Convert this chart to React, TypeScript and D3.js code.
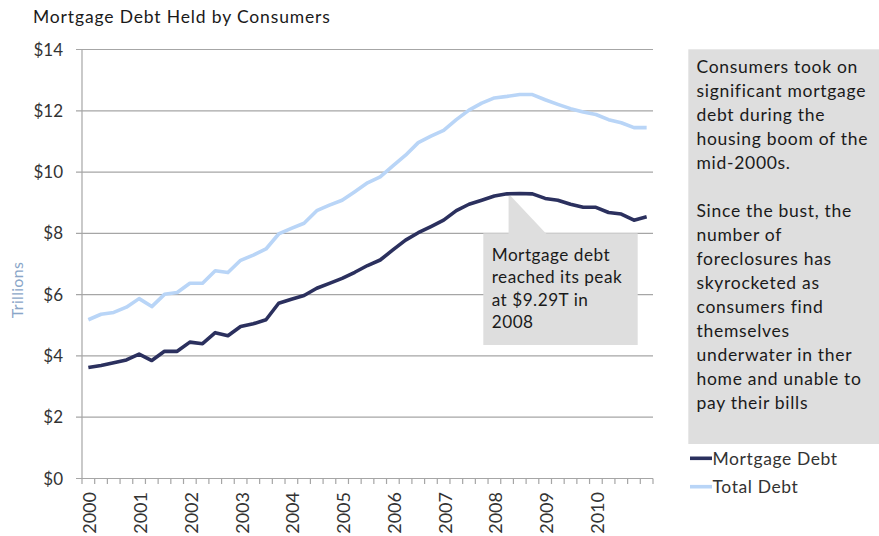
import React from "react";
import * as d3 from "d3";

const quarters = [
  "2000Q1","2000Q2","2000Q3","2000Q4","2001Q1","2001Q2","2001Q3","2001Q4",
  "2002Q1","2002Q2","2002Q3","2002Q4","2003Q1","2003Q2","2003Q3","2003Q4",
  "2004Q1","2004Q2","2004Q3","2004Q4","2005Q1","2005Q2","2005Q3","2005Q4",
  "2006Q1","2006Q2","2006Q3","2006Q4","2007Q1","2007Q2","2007Q3","2007Q4",
  "2008Q1","2008Q2","2008Q3","2008Q4","2009Q1","2009Q2","2009Q3","2009Q4",
  "2010Q1","2010Q2","2010Q3","2010Q4","2011Q1",
];
const yearLabels = ["2000","2001","2002","2003","2004","2005","2006","2007","2008","2009","2010"];

const mortgageDebt = [
  3.62, 3.69, 3.78, 3.87, 4.06, 3.85, 4.15, 4.15, 4.45, 4.40, 4.76, 4.66,
  4.96, 5.05, 5.18, 5.72, 5.85, 5.97, 6.21, 6.37, 6.53, 6.73, 6.95, 7.13,
  7.46, 7.78, 8.02, 8.22, 8.43, 8.74, 8.95, 9.08, 9.22, 9.29, 9.30, 9.29,
  9.14, 9.08, 8.95, 8.85, 8.85, 8.68, 8.63, 8.43, 8.54,
];
const totalDebt = [
  5.18, 5.36, 5.42, 5.59, 5.87, 5.61, 6.01, 6.07, 6.37, 6.37, 6.78, 6.72,
  7.12, 7.29, 7.49, 7.98, 8.16, 8.33, 8.74, 8.92, 9.08, 9.36, 9.65, 9.84,
  10.20, 10.55, 10.96, 11.17, 11.36, 11.71, 12.02, 12.25, 12.42, 12.47, 12.53, 12.53,
  12.36, 12.21, 12.07, 11.96, 11.88, 11.71, 11.61, 11.45, 11.45,
];
const yTicks = [0, 2, 4, 6, 8, 10, 12, 14];

const title = "Mortgage Debt Held by Consumers";
const yAxisTitle = "Trillions";
const calloutLines = ["Mortgage debt", "reached its peak", "at $9.29T in", "2008"];
const peakIndex = 33;
const sideNoteLines = [
  "Consumers took on",
  "significant mortgage",
  "debt during the",
  "housing boom of the",
  "mid-2000s.",
  "",
  "Since the bust, the",
  "number of",
  "foreclosures has",
  "skyrocketed as",
  "consumers find",
  "themselves",
  "underwater in ther",
  "home and unable to",
  "pay their bills",
];
const seriesNames = ["Mortgage Debt", "Total Debt"];

const W = 879;
const H = 536;
const FONT = "Lato, 'Open Sans', sans-serif";
const MORT_COLOR = "#2b305e";
const TOTAL_COLOR = "#b9d5f7";
const GRID = "#a6a6a6";
const BOX = "#dedede";

export default function App() {
  const x = d3.scaleBand<number>().domain(d3.range(quarters.length)).range([82, 653]).paddingInner(0).paddingOuter(0);
  const bw = x.bandwidth();
  const cx = (i: number) => (x(i) as number) + bw / 2;
  const y = d3.scaleLinear().domain([0, 14]).range([478.5, 49.5]);

  const line = d3
    .line<number>()
    .x((_, i) => cx(i))
    .y((d) => y(d));

  const tickEdges = d3.range(quarters.length + 1).map((i) => 82 + i * bw);

  const tipX = cx(peakIndex) + 1.5;
  const tipY = y(mortgageDebt[peakIndex]);
  const boxX = 483.3, boxY = 233.3, boxW = 154.4, boxH = 111.7;

  return (
    <svg
      width={W}
      height={H}
      style={{ position: "absolute", left: 0, top: 0, background: "#fff" }}
      fontFamily={FONT}
    >
      <text x={33} y={23} fontSize={17.5} letterSpacing={0.85} fill="#1a1a1a">{title}</text>

      {/* gridlines */}
      {yTicks.map((t) => (
        <g key={t}>
          <line x1={76} x2={653} y1={y(t)} y2={y(t)} stroke={GRID} strokeWidth={1.2} />
          <text x={63} y={y(t)} dy="0.36em" textAnchor="end" fontSize={17} fill="#333">
            {"$" + t}
          </text>
        </g>
      ))}

      {/* y axis */}
      <line x1={82} x2={82} y1={y(14)} y2={y(0)} stroke={GRID} strokeWidth={1.2} />
      {/* x tick marks */}
      {tickEdges.map((tx, i) => (
        <line key={i} x1={tx} x2={tx} y1={y(0)} y2={y(0) + 5.5} stroke={GRID} strokeWidth={1.2} />
      ))}
      {/* year labels */}
      {yearLabels.map((lab, k) => {
        const px = cx(k * 4);
        return (
          <text
            key={lab}
            transform={`translate(${px + 1.5},${y(0) + 13.5}) rotate(-90)`}
            textAnchor="end"
            dy="0.36em"
            fontSize={18}
            fill="#333"
          >
            {lab}
          </text>
        );
      })}

      <text
        transform={`translate(17,290) rotate(-90)`}
        textAnchor="middle"
        dy="0.36em"
        fontSize={16}
        letterSpacing={0.3}
        fill="#8aa6c8"
      >
        {yAxisTitle}
      </text>

      {/* callout */}
      <polygon
        points={`${tipX},${tipY} ${tipX},${boxY + 1} ${boxX + 63.4},${boxY + 1}`}
        fill={BOX}
      />
      <rect x={boxX} y={boxY} width={boxW} height={boxH} fill={BOX} />
      {calloutLines.map((l, i) => (
        <text key={i} x={491.7} y={260.5 + i * 22.6} fontSize={17.2} letterSpacing={0.5} fill="#1a1a1a">
          {l}
        </text>
      ))}

      {/* series */}
      <path d={line(totalDebt) || ""} fill="none" stroke={TOTAL_COLOR} strokeWidth={3.6} strokeLinejoin="round" />
      <path d={line(mortgageDebt) || ""} fill="none" stroke={MORT_COLOR} strokeWidth={3.6} strokeLinejoin="round" />

      {/* side note */}
      <rect x={688.3} y={49.3} width={W - 688.3} height={444 - 49.3} fill={BOX} />
      {sideNoteLines.map((l, i) => (
        <text key={i} x={696.5} y={72.5 + i * 24.07} fontSize={17.5} letterSpacing={0.7} fill="#1a1a1a">
          {l}
        </text>
      ))}

      {/* legend */}
      {seriesNames.map((n, i) => (
        <g key={n} transform={`translate(0,${458.3 + i * 28.4})`}>
          <line x1={690} x2={712} y1={0} y2={0} stroke={i === 0 ? MORT_COLOR : TOTAL_COLOR} strokeWidth={3.6} />
          <text x={712.5} y={0} dy="0.36em" fontSize={17.5} letterSpacing={0.6} fill="#333">
            {n}
          </text>
        </g>
      ))}
    </svg>
  );
}
